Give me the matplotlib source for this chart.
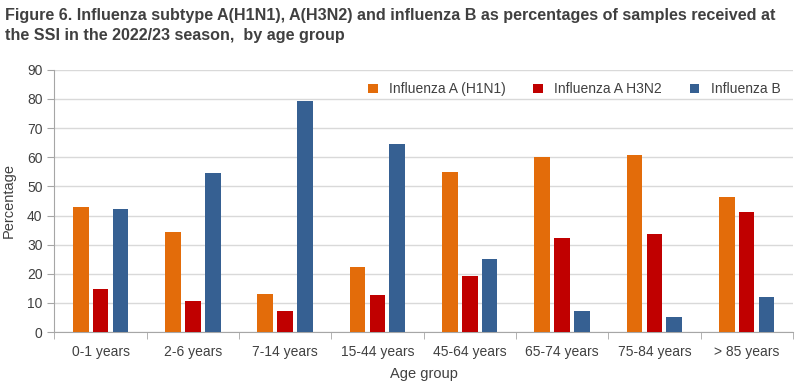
import numpy as np
import matplotlib.pyplot as plt
from matplotlib.ticker import FixedLocator, NullFormatter

# ------------------------------------------------------
age_groups = ['0-1 years', '2-6 years', '7-14 years', '15-44 years',
              '45-64 years', '65-74 years', '75-84 years', '> 85 years']
h1n1 = [43.0, 34.4, 13.1, 22.3, 55.0, 60.2, 60.9, 46.4]
h3n2 = [14.8, 10.7, 7.2, 12.7, 19.3, 32.3, 33.7, 41.2]
infl_b = [42.3, 54.7, 79.4, 64.6, 25.1, 7.2, 5.2, 12.1]
series_names = ['Influenza A (H1N1)', 'Influenza A H3N2', 'Influenza B']
colors = ['#E36C0A', '#C00000', '#366092']
# ------------------------------------------------------

fam = ['Liberation Sans', 'DejaVu Sans']
plt.rcParams['font.family'] = fam
txt = '#404040'

fig = plt.figure(figsize=(8, 3.88), dpi=100)
ax = fig.add_axes([0.068, 0.144, 0.923, 0.676])

x = np.arange(len(age_groups))
w = 0.17
step = 0.215
for i, (vals, name, c) in enumerate(zip([h1n1, h3n2, infl_b], series_names, colors)):
    ax.bar(x + (i - 1) * step, vals, w, color=c, label=name, zorder=3)

ax.set_xlim(-0.5, len(age_groups) - 0.5)
ax.set_ylim(0, 90)
ax.set_yticks(range(0, 91, 10))
ax.grid(axis='y', color='#D9D9D9', linewidth=1, zorder=0)

ax.set_xticks(x)
ax.set_xticklabels(age_groups, fontsize=10, color=txt)
ax.tick_params(axis='x', which='major', length=0, pad=9)
ax.xaxis.set_minor_locator(FixedLocator(np.arange(-0.5, len(age_groups), 1)))
ax.xaxis.set_minor_formatter(NullFormatter())
ax.tick_params(axis='x', which='minor', length=5, color='#A6A6A6')
ax.tick_params(axis='y', labelsize=10, labelcolor=txt, length=5, color='#A6A6A6')

for s in ['top', 'right']:
    ax.spines[s].set_visible(False)
for s in ['left', 'bottom']:
    ax.spines[s].set_color('#A6A6A6')

ax.set_xlabel('Age group', fontsize=10.5, color=txt, labelpad=6)
ax.set_ylabel('Percentage', fontsize=10.5, color=txt, labelpad=8)

leg = ax.legend(loc='upper right', bbox_to_anchor=(1.0, 1.0), ncol=3, frameon=False,
                fontsize=10, handlelength=0.7, handleheight=0.7, columnspacing=2.0,
                handletextpad=0.8)
for t in leg.get_texts():
    t.set_color(txt)

fig.text(0.006, 0.98, 'Figure 6. Influenza subtype A(H1N1), A(H3N2) and influenza B as percentages of samples received at\nthe SSI in the 2022/23 season,  by age group',
         fontsize=11.6, fontweight='bold', color=txt, va='top', ha='left', linespacing=1.45)

fig.savefig('out.png', dpi=100)
